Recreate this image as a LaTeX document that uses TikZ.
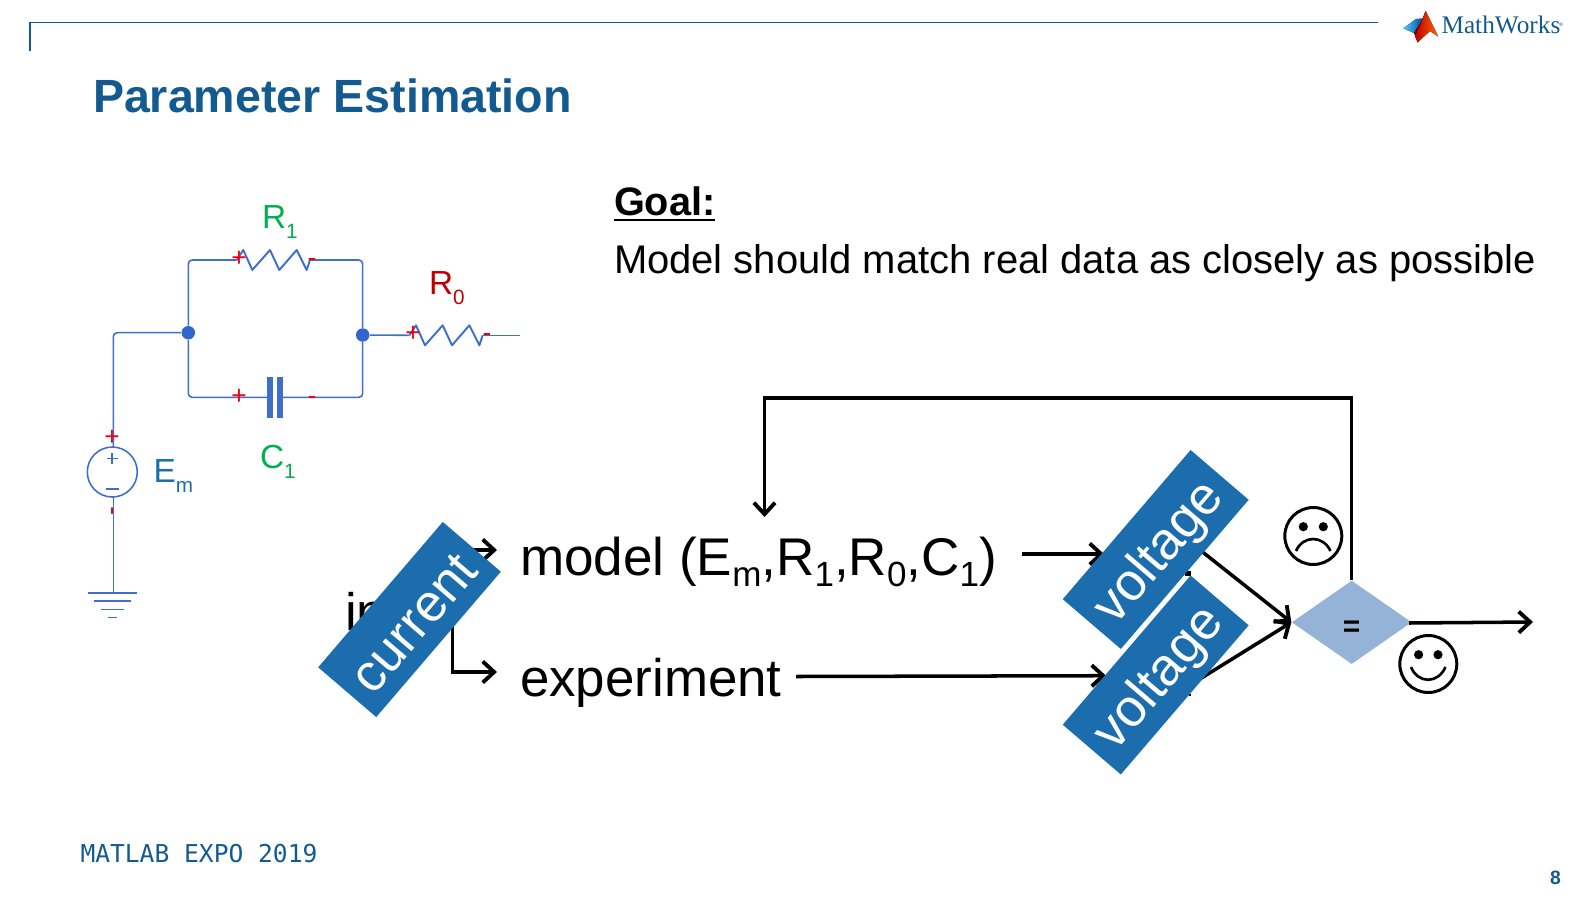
\documentclass[tikz,border=0pt]{standalone}
\usepackage{fontspec}
\setmainfont{Liberation Sans}
\newfontfamily\logofont{Liberation Serif}
\newfontfamily\expofont{DejaVu Sans Mono}
\usetikzlibrary{arrows.meta,shapes.geometric}
\definecolor{titleblue}{HTML}{125A8F}
\definecolor{boxblue}{HTML}{1B6DAD}
\definecolor{wire}{HTML}{3F6FCB}
\definecolor{dot}{HTML}{3366CC}
\definecolor{lblgreen}{HTML}{00B050}
\definecolor{lblred}{HTML}{C00000}
\definecolor{mark}{HTML}{F00010}
\definecolor{dia}{HTML}{95B3D7}
\newcommand{\lowered}[1]{\raisebox{-.22em}{\scalebox{.66}{#1}}}
\newcommand{\lowlab}[1]{\raisebox{-.3em}{\scalebox{.62}{#1}}}
\newcommand{\fs}[1]{\fontsize{#1}{#1}\selectfont}
\newcommand{\tagtext}[2]{\raisebox{-#1pt}[0pt][0pt]{#2}}
\tikzset{
 txt/.style={inner sep=0pt,outer sep=0pt,anchor=base west},
 tag/.style={fill=boxblue,text=white,minimum width=3.93cm,minimum height=1.53cm,inner sep=0pt,rotate=49.4,font=\fs{30}},
 conn/.style={draw=black,line width=2pt,-{Straight Barb[length=6.5pt,width=12pt,line width=2.2pt]}},
 wiring/.style={draw=wire,line width=.9pt,rounded corners=2.2pt},
 zig/.style={draw=wire,line width=1.1pt,line join=round},
 mk/.style={text=mark,inner sep=0pt,font=\fs{15}},
 clab/.style={txt,font=\fs{19}},
 face/.style={draw=black,line width=1.7pt,circle,minimum size=1.14cm,inner sep=0pt},
}
\begin{document}
\begin{tikzpicture}[x=.02cm,y=-.02cm]
\useasboundingbox (0,0) rectangle (1596,900);
% frame
\coordinate (fa) at (30,51); \coordinate (fb) at (30,22.7); \coordinate (fc) at (1378,22.7);
\draw[titleblue,line width=.9pt] (fa) -- (fb) -- (fc);
% logo
\fill[left color=blue!30!cyan!70!white,right color=blue!50!cyan!60!black] (1403.3,28.3) -- (1416,19) -- (1423,18.5) -- (1415,33.5) -- cycle;
\fill[left color=red!45!black,right color=red!70!black] (1414,33) -- (1422,20) -- (1425.7,11) -- (1423,30) -- (1417.7,42.3) -- cycle;
\fill[left color=red!75!black,middle color=orange!70!yellow,right color=orange!80!red] (1425.7,11) -- (1438.3,36.7) -- (1430,31) -- (1417.7,42.3) -- (1415,36) -- (1421,24) -- cycle;
\node[txt,text=titleblue,font=\logofont\fs{14.4}] (logo) at (1441.5,33) {MathWorks};
\node[inner sep=0pt,text=titleblue,font=\fs{3}] (reg) at (1561,25) {®};
% title
\node[txt,text=titleblue,font=\fs{26.5}\bfseries] (title) at (93,112.6) {Parameter Estimation};
% goal
\node[txt,font=\fs{22.6}\bfseries] (goal) at (614,215) {Goal:};
\draw[line width=1.2pt] ([yshift=-3pt]goal.base west) -- ([yshift=-3pt]goal.base east);
\node[txt,font=\fs{22.75}] (goaltext) at (614,273) {Model should match real data as closely as possible};
% circuit
\node[circle,fill=dot,minimum size=.27cm,inner sep=0pt] (j1) at (188.3,332.7) {};
\node[circle,fill=dot,minimum size=.27cm,inner sep=0pt] (j2) at (362.7,335) {};
\node[circle,draw=wire,line width=.9pt,minimum size=1cm,inner sep=0pt] (src) at (112.3,472) {};
\coordinate (gnd) at (113.3,592.7);
\coordinate (r1a) at (236.7,260); \coordinate (r1b) at (310,260);
\coordinate (r0a) at (409.4,335.3); \coordinate (r0b) at (482.7,335.3); \coordinate (r0c) at (520,335.3);
\coordinate (c1a) at (270,397.3); \coordinate (c1b) at (280,397.3);
\draw[wiring] (j1) -- (188.3,260) -- (r1a);
\draw[wiring] (r1b) -- (362.7,260) -- (j2);
\draw[wiring] (j1) -- (188.3,397.3) -- (c1a);
\draw[wiring] (c1b) -- (362.7,397.3) -- (j2);
\draw[wiring] (j1) -- (113.3,332.7) -- (113.3,447);
\draw[wiring] (src) ++(1,25) -- (gnd);
\draw[wiring] (j2) -- (r0a);
\draw[wiring] (r0b) -- (r0c);
\draw[zig] (r1a) -- ++(6.6,-10) -- ++(9,20) -- ++(17.7,-20) -- ++(9.3,20) -- ++(17.4,-20) -- ++(10,20) -- (r1b);
\draw[zig] (r0a) -- ++(6.6,-10) -- ++(9,20) -- ++(17.7,-20) -- ++(9.3,20) -- ++(17.4,-20) -- ++(10,20) -- (r0b);
\draw[draw=wire,line width=3pt] (270,377) -- (270,418);
\draw[draw=wire,line width=3pt] (280,377) -- (280,418);
\draw[wire,line width=1pt] (106.5,458.5) -- (118,458.5) (112.3,453) -- (112.3,464) (106,489) -- (118.5,489);
\draw[wire,line width=1.1pt] (88,592.7) -- (137,592.7) (94,601) -- (131,601) (101,609.5) -- (124,609.5) (108,617.5) -- (117,617.5);
\node[clab,text=lblgreen] (r1) at (262,228) {R\lowlab{1}};
\node[clab,text=lblred] (r0) at (429,294) {R\lowlab{0}};
\node[clab,text=lblgreen] (c1) at (260,468) {C\lowlab{1}};
\node[clab,text=boxblue] (em) at (153.7,482) {E\lowlab{m}};
\node[mk] (p1) at (239,259) {+}; \node[mk] (m1) at (312,262) {-};
\node[mk] (p2) at (413,334) {+}; \node[mk] (m2) at (487,337) {-};
\node[mk] (p3) at (239,397) {+}; \node[mk] (m3) at (312,400) {-};
\node[mk] (p4) at (112,438) {+}; \node[mk,rotate=90] (m4) at (115,511) {-};
% flow
\node[txt,font=\fs{30}] (in) at (345,630) {in};
\node[txt,font=\fs{30.2}] (model) at (520,575) {model (E\lowered{m},R\lowered{1},R\lowered{0},C\lowered{1})};
\node[txt,font=\fs{30.1}] (exp) at (520,696) {experiment};
\node[diamond,aspect=1.4,fill=dia,minimum width=2.4cm,minimum height=1.67cm,inner sep=0pt,font=\fs{17}\bfseries] (eq) at (1351.7,622.3) {\raisebox{-8pt}[0pt][0pt]{=}};
\coordinate (bus) at (452.7,550);
\coordinate (busb) at (452.7,672);
\coordinate (m1t) at (497,550); \coordinate (e1t) at (497,672);
\draw[conn] (bus) -- (m1t);
\draw[conn] (bus) -- (busb) -- (e1t);
\coordinate (ms) at (1022,554); \coordinate (mt) at (1104,554);
\coordinate (es) at (796,676.5); \coordinate (et) at (1106,675.7);
\draw[conn] (ms) -- (mt);
\draw[conn] (es) -- (et);
\coordinate (d1) at (1195,546); \coordinate (d2) at (1195,682);
\draw[conn] (d1) -- (eq.west);
\draw[conn] (d2) -- (eq.west);
\coordinate (fb1) at (1351.7,398); \coordinate (fb2) at (764.5,398); \coordinate (fb3) at (764.5,517);
\draw[conn] (eq.north) -- (fb1) -- (fb2) -- (fb3);
\coordinate (outs) at (1409,623); \coordinate (out) at (1533,622);
\draw[conn] (outs) -- (out);
% remnants peeking out at the box edges
\fill (1185,570.5) rectangle (1191,575.5);
\fill (1188.5,694) rectangle (1190.5,696);
\node[tag,minimum width=3.83cm] (cur) at (409.5,619.5) {\tagtext{12.9}{current}};
\node[tag] (v1) at (1155.7,549.5) {\tagtext{11.3}{voltage}};
\node[tag] (v2) at (1155.7,675) {\tagtext{11.3}{voltage}};
% faces
\node[face] (sad) at (1313.3,536) {};
\fill (1303.3,526.7) circle (4.6) (1323.3,526.7) circle (4.6);
\draw[line width=1.5pt] (1296,551) .. controls (1303,535) and (1323,535) .. (1330.5,551);
\node[face] (happy) at (1428.3,664) {};
\fill (1418.6,654.7) circle (4.6) (1438,654.7) circle (4.6);
\draw[line width=1.5pt] (1411,667) .. controls (1418,684) and (1438,684) .. (1445.5,667);
% footer
\node[txt,text=titleblue,font=\expofont\fs{14}] (expo) at (80.5,862) {MATLAB EXPO 2019};
\node[txt,text=titleblue,font=\fs{11}\bfseries] (page) at (1550,884) {8};
\end{tikzpicture}
\end{document}
